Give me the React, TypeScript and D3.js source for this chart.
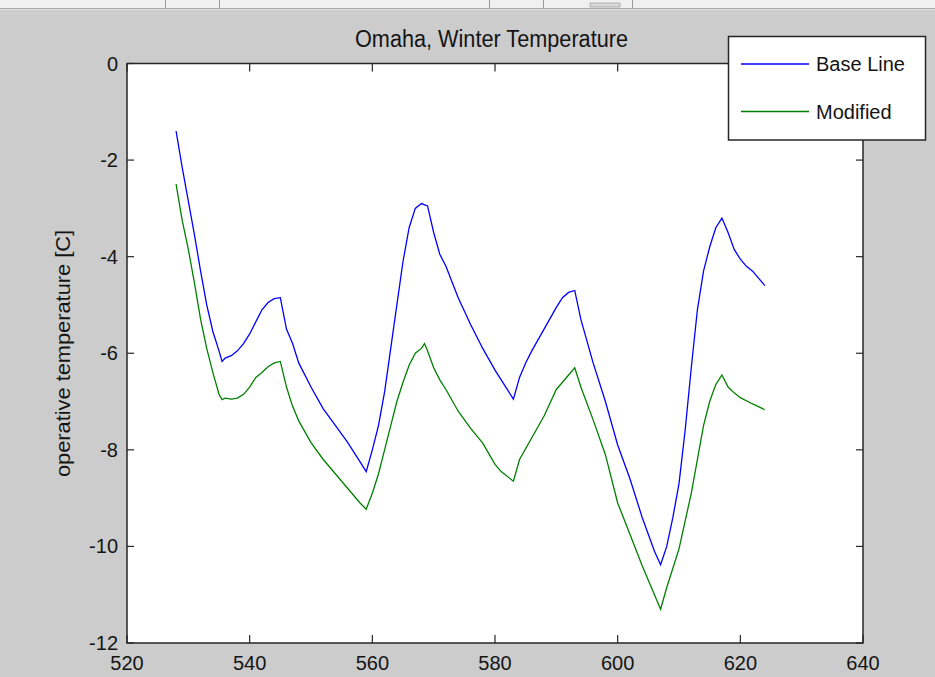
import React from "react";
import * as d3 from "d3";

// hour of the year (x) and operative temperature [C]
const baseX = [528, 529, 530, 531, 532, 533, 534, 535, 535.5, 536, 537, 538, 539, 540, 541, 542, 543, 544, 545, 546, 547, 548, 550, 552, 554, 556, 558, 559, 560, 561, 562, 563, 564, 565, 566, 567, 568, 569, 570, 571, 572, 574, 576, 578, 580, 582, 583, 584, 585, 586, 588, 590, 591, 592, 593, 594, 596, 598, 600, 602, 604, 606, 607, 608, 609, 610, 611, 612, 613, 614, 615, 616, 617, 618, 619, 620, 621, 622, 623, 624];
const baseY = [-1.4, -2.15, -2.85, -3.55, -4.3, -5.0, -5.55, -5.95, -6.17, -6.1, -6.05, -5.95, -5.8, -5.6, -5.35, -5.1, -4.95, -4.87, -4.85, -5.5, -5.8, -6.2, -6.7, -7.15, -7.5, -7.85, -8.25, -8.45, -8.0, -7.5, -6.8, -5.9, -5.0, -4.1, -3.4, -3.0, -2.9, -2.95, -3.5, -3.95, -4.2, -4.85, -5.4, -5.9, -6.35, -6.75, -6.95, -6.5, -6.2, -5.95, -5.5, -5.05, -4.85, -4.74, -4.7, -5.3, -6.2, -7.0, -7.9, -8.6, -9.4, -10.1, -10.38, -10.0, -9.4, -8.7, -7.6, -6.3, -5.1, -4.3, -3.8, -3.4, -3.2, -3.5, -3.85, -4.05, -4.2, -4.3, -4.45, -4.6];

const modX = [528, 529, 530, 531, 532, 533, 534, 535, 535.5, 536, 537, 538, 539, 540, 541, 542, 543, 544, 545, 546, 547, 548, 550, 552, 554, 556, 558, 559, 560, 561, 562, 563, 564, 565, 566, 567, 568, 568.5, 569, 570, 571, 572, 574, 576, 578, 580, 581, 583, 584, 586, 588, 590, 591, 592, 593, 594, 596, 598, 600, 602, 604, 606, 607, 608, 610, 612, 614, 615, 616, 617, 618, 619, 620, 622, 624];
const modY = [-2.5, -3.25, -3.85, -4.55, -5.3, -5.9, -6.4, -6.85, -6.96, -6.93, -6.95, -6.93, -6.85, -6.7, -6.5, -6.4, -6.28, -6.2, -6.17, -6.7, -7.1, -7.4, -7.85, -8.2, -8.5, -8.8, -9.1, -9.23, -8.9, -8.5, -8.0, -7.5, -7.0, -6.6, -6.25, -6.0, -5.9, -5.8, -5.95, -6.3, -6.55, -6.75, -7.2, -7.55, -7.86, -8.3, -8.45, -8.65, -8.2, -7.75, -7.3, -6.75, -6.6, -6.45, -6.3, -6.7, -7.38, -8.1, -9.1, -9.75, -10.4, -11.0, -11.3, -10.85, -10.05, -8.9, -7.5, -7.0, -6.65, -6.45, -6.7, -6.82, -6.92, -7.05, -7.17];

const xTicks = [520, 540, 560, 580, 600, 620, 640];
const yTicks = [0, -2, -4, -6, -8, -10, -12];
const seriesNames = ["Base Line", "Modified"];
const seriesColors = ["#0000ff", "#008000"];

const W = 935;
const H = 677;
const font = "'Liberation Sans', Arial, sans-serif";
const ink = "#141414";

export default function App() {
  const x = d3.scaleLinear().domain([520, 640]).range([127, 863]);
  const y = d3.scaleLinear().domain([-12, 0]).range([643, 63.5]);

  const series = [
    baseX.map((v, i) => [v, baseY[i]] as [number, number]),
    modX.map((v, i) => [v, modY[i]] as [number, number]),
  ];
  const line = d3
    .line<[number, number]>()
    .x((d) => x(d[0]))
    .y((d) => y(d[1]));

  const [x0, x1] = x.range();
  const [y0, y1] = y.range(); // bottom, top

  return (
    <svg
      width={W}
      height={H}
      style={{ position: "fixed", left: 0, top: 0, display: "block" }}
      fontFamily={font}
    >
      <rect width={W} height={H} fill="#cccccc" />
      {/* window toolbar strip */}
      <rect width={W} height={8} fill="#f0f0f0" />
      <line x1={0} x2={W} y1={8.5} y2={8.5} stroke="#a9a9a9" />
      <line x1={0} x2={W} y1={9.5} y2={9.5} stroke="#e2e2e2" />
      {[165, 219, 489, 543, 632].map((px) => (
        <line key={px} x1={px + 0.5} x2={px + 0.5} y1={0} y2={8} stroke="#9a9a9a" />
      ))}
      <rect x={590} y={3} width={30} height={4} fill="#d8d8d8" stroke="#8a8a8a" strokeWidth={0.6} />

      {/* axes area */}
      <rect x={x0} y={y1} width={x1 - x0} height={y0 - y1} fill="#ffffff" />

      <text
        x={491.5}
        y={47}
        textAnchor="middle"
        fontSize={23}
        fill={ink}
        textLength={273}
        lengthAdjust="spacingAndGlyphs"
      >
        Omaha, Winter Temperature
      </text>

      {/* data lines */}
      <g clipPath="url(#plot)">
        {series.map((s, i) => (
          <path key={i} d={line(s) || ""} fill="none" stroke={seriesColors[i]} strokeWidth={1.3} />
        ))}
      </g>
      <defs>
        <clipPath id="plot">
          <rect x={x0} y={y1} width={x1 - x0} height={y0 - y1} />
        </clipPath>
      </defs>

      {/* box */}
      <rect x={x0} y={y1} width={x1 - x0} height={y0 - y1} fill="none" stroke="#262626" strokeWidth={1.5} />

      {/* x ticks */}
      {xTicks.map((t) => (
        <g key={t}>
          <line x1={x(t)} x2={x(t)} y1={y0} y2={y0 - 8} stroke="#262626" strokeWidth={1.2} />
          <line x1={x(t)} x2={x(t)} y1={y1} y2={y1 + 8} stroke="#262626" strokeWidth={1.2} />
          <text x={x(t)} y={y0 + 27} textAnchor="middle" fontSize={20} fill={ink}>
            {t}
          </text>
        </g>
      ))}

      {/* y ticks */}
      {yTicks.map((t) => (
        <g key={t}>
          <line x1={x0} x2={x0 + 7} y1={y(t)} y2={y(t)} stroke="#262626" strokeWidth={1.2} />
          <line x1={x1} x2={x1 - 7} y1={y(t)} y2={y(t)} stroke="#262626" strokeWidth={1.2} />
          <text x={118} y={y(t) + 7} textAnchor="end" fontSize={20} fill={ink}>
            {t}
          </text>
        </g>
      ))}

      <text
        transform="translate(70,353.5) rotate(-90)"
        textAnchor="middle"
        fontSize={20}
        fill={ink}
        textLength={247}
        lengthAdjust="spacingAndGlyphs"
      >
        operative temperature [C]
      </text>

      {/* legend */}
      <rect x={728.5} y={36.5} width={197} height={103.5} fill="#ffffff" stroke="#262626" strokeWidth={1.5} />
      {seriesNames.map((name, i) => {
        const ly = 64 + i * 47.5;
        return (
          <g key={name}>
            <line x1={741} x2={809} y1={ly} y2={ly} stroke={seriesColors[i]} strokeWidth={1.3} />
            <text x={816} y={ly + 7} fontSize={20} fill={ink}>
              {name}
            </text>
          </g>
        );
      })}
    </svg>
  );
}
